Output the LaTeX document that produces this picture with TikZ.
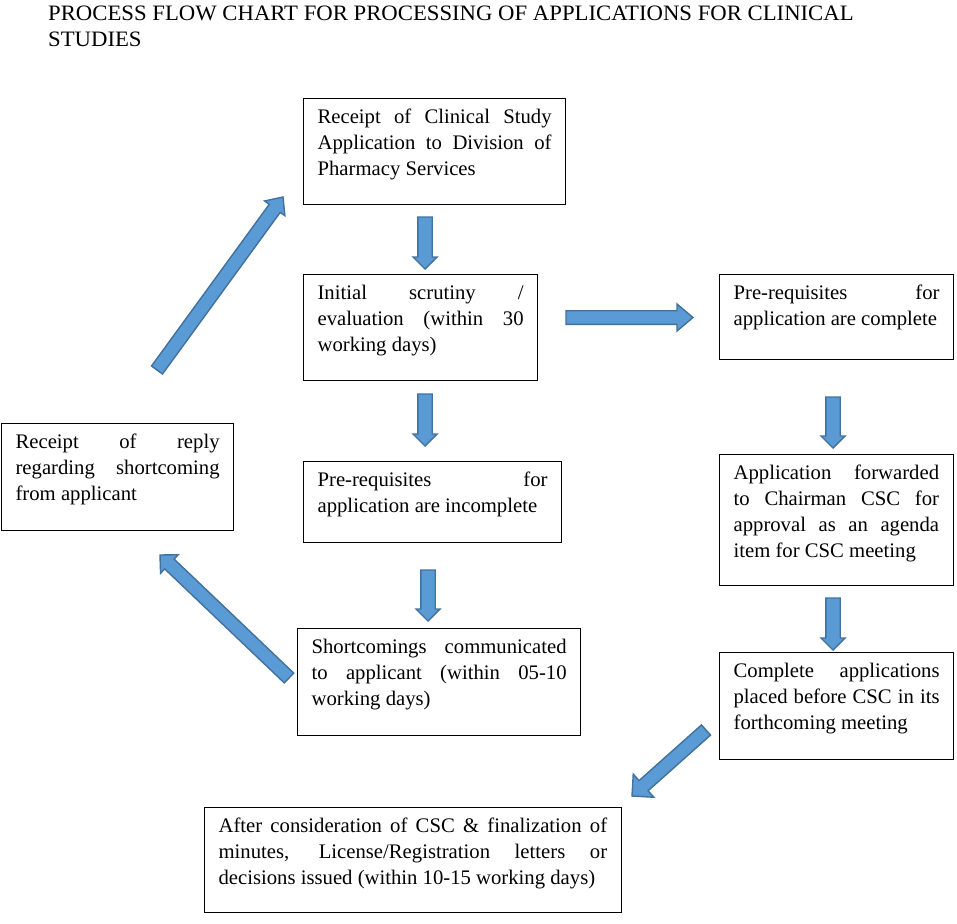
\documentclass[tikz,border=0pt]{standalone}
\usepackage{fontspec}
\setmainfont{Liberation Serif}
\usepackage{graphicx}
\usetikzlibrary{calc}
\definecolor{arrfill}{HTML}{5B9BD5}
\definecolor{arrline}{HTML}{41719C}
\hyphenpenalty=10000
\exhyphenpenalty=10000
\newcommand\boxtxt[2]{\vbox to #1pt{\sloppy\vskip 6.8pt\noindent\strut #2\par\vfil}}
\newcommand\barrow[5]{%
  \path (#1) coordinate (bs) (#2) coordinate (bt);
  \path ($(bt)!#5pt!(bs)$) coordinate (bh);
  \filldraw[blockarrow] ($(bs)!#3pt!90:(bt)$) -- ($(bh)!#3pt!90:(bt)$) -- ($(bh)!#4pt!90:(bt)$)
    -- (bt) -- ($(bh)!#4pt!-90:(bt)$) -- ($(bh)!#3pt!-90:(bt)$) -- ($(bs)!#3pt!-90:(bt)$) -- cycle;
}
\tikzset{
  flowbox/.style={draw=black, line width=1.2pt, inner xsep=14pt, inner ysep=0pt,
    anchor=north west, align=justify, font=\fontsize{20.7}{26}\selectfont},
  blockarrow/.style={fill=arrfill, draw=arrline, line width=1.4pt, line join=miter},
  titletext/.style={anchor=base west, inner sep=0pt, font=\fontsize{22}{26}\selectfont},
}
\begin{document}
\begin{tikzpicture}[x=1pt,y=-1pt]
\useasboundingbox (0,0) rectangle (957,923);
\node[titletext] (title1) at (48,20.5) {\scalebox{1.033}[1]{PROCESS FLOW CHART FOR PROCESSING OF APPLICATIONS FOR CLINICAL}};
\node[titletext] (title2) at (48,46.5) {\scalebox{1.033}[1]{STUDIES}};

\node[flowbox, text width=234pt] (A) at (303,98) {\boxtxt{105.5}{Receipt of Clinical Study\linebreak Application to Division of\linebreak Pharmacy Services}};
\node[flowbox, text width=206pt] (B) at (303,274) {\boxtxt{106}{Initial scrutiny /\linebreak evaluation (within 30\linebreak working days)}};
\node[flowbox, text width=206pt] (C) at (719,274) {\boxtxt{85}{Pre-requisites for\linebreak application are complete}};
\node[flowbox, text width=230pt] (D) at (303,461) {\boxtxt{81}{Pre-requisites for\linebreak application are incomplete}};
\node[flowbox, text width=204pt] (E) at (1,423) {\boxtxt{106.5}{Receipt of reply\linebreak regarding shortcoming\linebreak from applicant}};
\node[flowbox, text width=205.5pt] (F) at (719,454) {\boxtxt{131}{Application forwarded\linebreak to Chairman CSC for\linebreak approval as an agenda\linebreak item for CSC meeting}};
\node[flowbox, text width=255pt] (G) at (297,628) {\boxtxt{107}{Shortcomings communicated\linebreak to applicant (within 05-10\linebreak working days)}};
\node[flowbox, text width=206pt] (H) at (719,652) {\boxtxt{107}{Complete applications\linebreak placed before CSC in its\linebreak forthcoming meeting}};
\node[flowbox, text width=388.5pt] (I) at (204,807) {\boxtxt{105}{After consideration of CSC \& finalization of\linebreak minutes, License/Registration letters or\linebreak decisions issued (within 10-15 working days)}};

\coordinate (a1s) at (425,217); \coordinate (a1t) at (425,269);
\coordinate (a2s) at (425,394); \coordinate (a2t) at (425,446);
\coordinate (a3s) at (428,570); \coordinate (a3t) at (428,621);
\coordinate (a4s) at (833,397); \coordinate (a4t) at (833,448);
\coordinate (a5s) at (833,598); \coordinate (a5t) at (833,650);
\coordinate (a6s) at (566,317.5); \coordinate (a6t) at (693,317.5);
\coordinate (a7s) at (157,370); \coordinate (a7t) at (283,197);
\coordinate (a8s) at (289,678); \coordinate (a8t) at (160,555);
\coordinate (a9s) at (706,730); \coordinate (a9t) at (632,796);

\barrow{a1s}{a1t}{7.2}{12}{12}
\barrow{a2s}{a2t}{7.2}{12}{12}
\barrow{a3s}{a3t}{7.2}{12}{12}
\barrow{a4s}{a4t}{7.2}{12}{12}
\barrow{a5s}{a5t}{7.2}{12}{12}
\barrow{a6s}{a6t}{6.8}{13.5}{16}
\barrow{a7s}{a7t}{6.8}{12.5}{14}
\barrow{a8s}{a8t}{6.8}{12.8}{13}
\barrow{a9s}{a9t}{6.8}{15.5}{15.5}
\end{tikzpicture}
\end{document}
